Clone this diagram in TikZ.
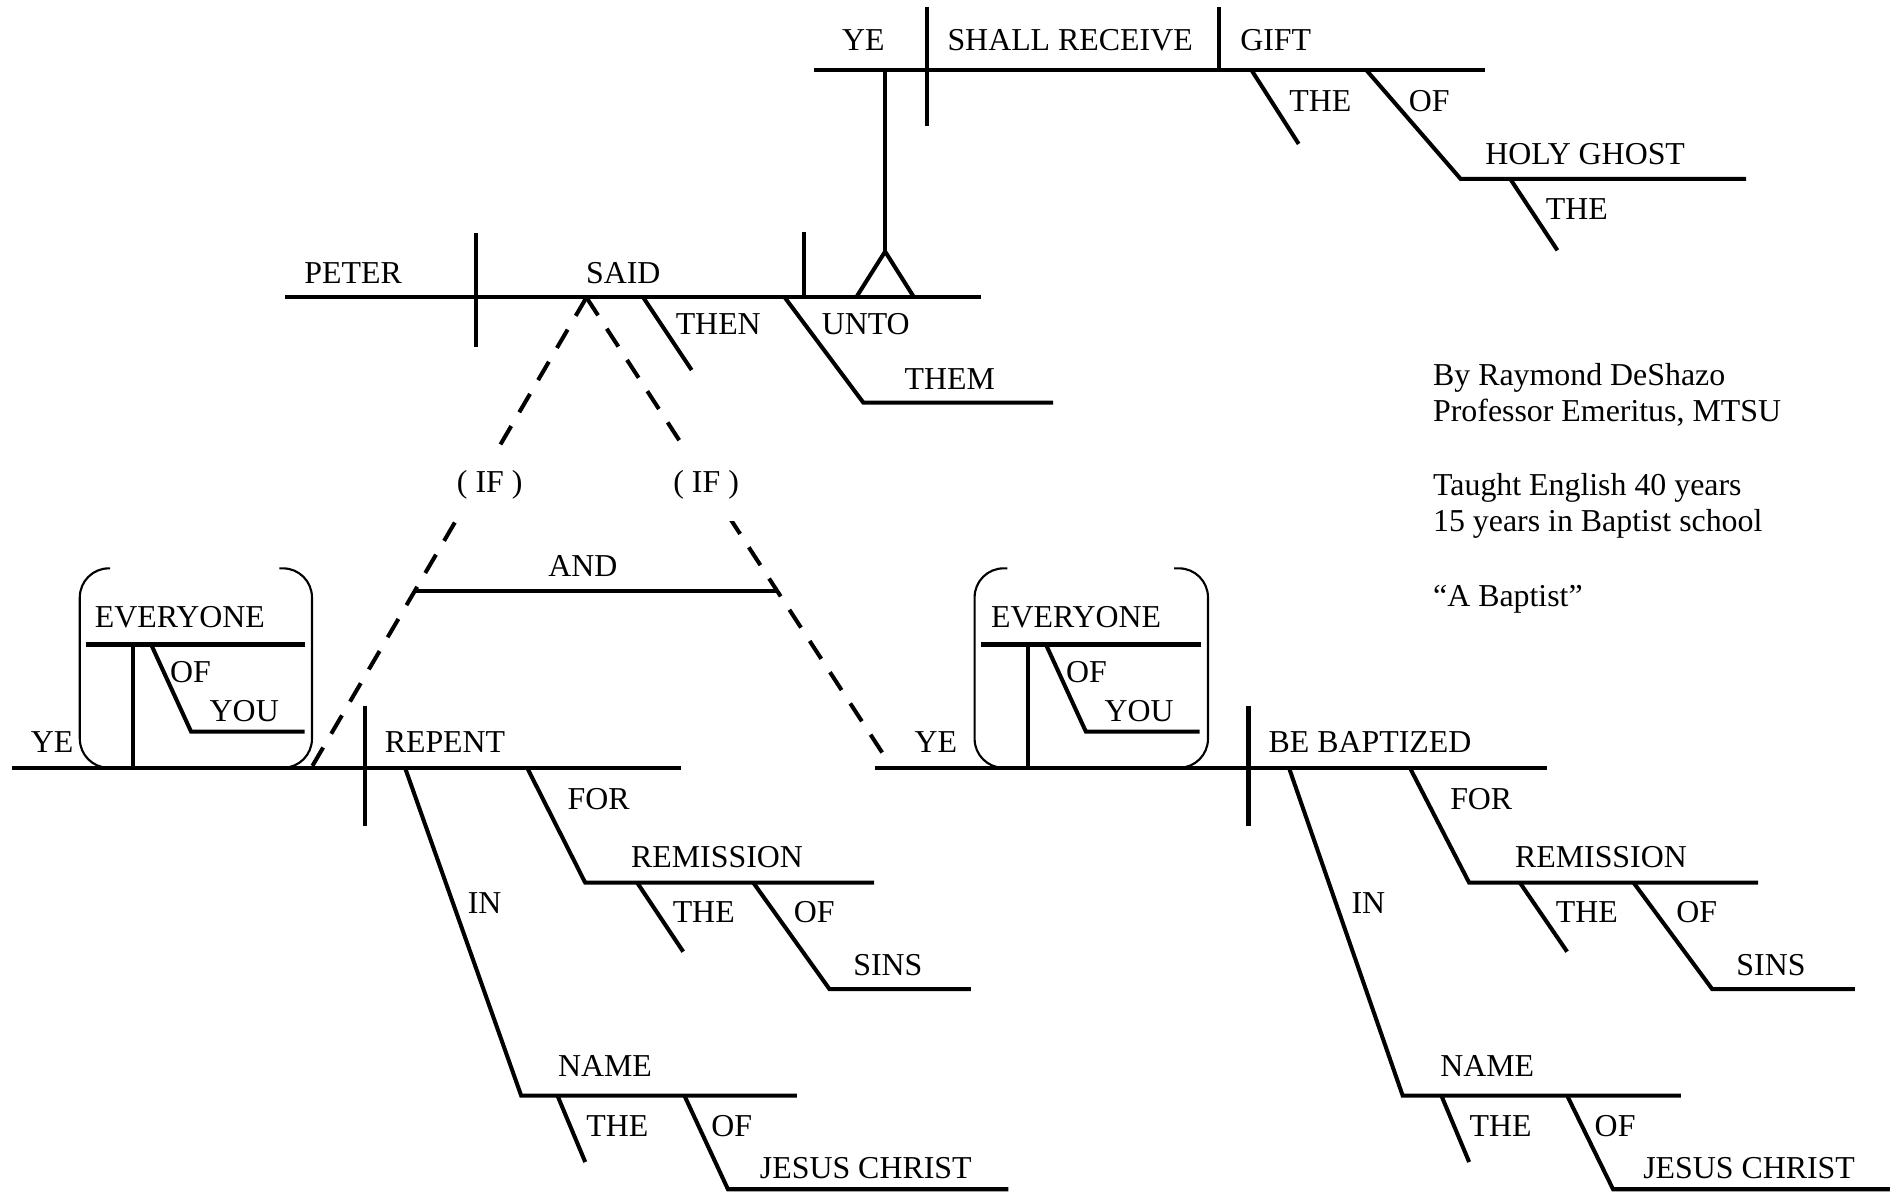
\documentclass[tikz,border=0pt]{standalone}
\usepackage{fontspec}
\setmainfont{Liberation Serif}
\usepackage{xcolor}
\usepackage{tikz}
\newcommand{\wordsize}{\fontsize{7.5}{8.7}\selectfont}

\begin{document}
\begin{tikzpicture}[x=0.1mm, y=-0.1mm,
        ln/.style={line width=0.95pt},
        dashln/.style={line width=0.95pt, dash pattern=on 1.76mm off 1.32mm},
        paren/.style={line width=0.5pt, rounded corners=2.4mm},
        word/.style={font=\wordsize, inner sep=0pt, anchor=base},
        ifword/.style={word, fill=white, inner sep=1.8mm},
        credit/.style={font=\wordsize, inner sep=0pt, anchor=base west}]

        \useasboundingbox (0,0) rectangle (1568,985);

        % Draw the clause on the pedestal
        \draw[ln] (673,58) -- (1228,58);
        \draw[ln] (767,6) -- (767,104);
        \draw[ln] (1008,6) -- (1008,58);
        \draw[ln] (1035,58) -- (1074,119);
        \draw[ln] (1130,58) -- (1208,148) coordinate (hg) -- (1444,148);
        \draw[ln] (1249,148) -- (1288,207);
        \draw[ln] (732,58) -- (732,208) coordinate (top);
        \draw[ln] (708,246) -- (top) -- (756,246);

        \node[word] (yeT)    at (714,42)    {YE};
        \node[word] (shall)  at (885,42)    {SHALL RECEIVE};
        \node[word] (gift)   at (1055,42)   {GIFT};
        \node[word] (theT)   at (1092,92.5) {THE};
        \node[word] (ofT)    at (1182,92.5) {OF};
        \node[word] (holy)   at (1311,136)  {HOLY GHOST};
        \node[word] (theHG)  at (1304,181.5) {THE};

        % Draw main clause
        \draw[ln] (236,246) -- (811,246);
        \draw[ln] (394,193) -- (394,287);
        \draw[ln] (665,192) -- (665,246);
        \draw[ln] (532,246) -- (572,306);
        \draw[ln] (649,246) -- (714,333) -- (871,333);

        \node[word] (peter) at (292,234.5)   {PETER};
        \node[word] (said)  at (515.5,234.5) {SAID};
        \node[word] (then)  at (594,277)     {THEN};
        \node[word] (unto)  at (716,277)     {UNTO};
        \node[word] (them)  at (785.5,322.5) {THEM};

        % Draw the two dashed branches and the conjunction
        \draw[dashln] (485,246) coordinate (fork) -- (258,634);
        \draw[dashln] (fork) -- (730,623);
        \draw[ln] (342.5,489) -- (643,489);

        \node[ifword] (ifL) at (405,407.5) {( IF )};
        \node[ifword] (ifR) at (584,407.5) {( IF )};
        \node[word]   (and) at (482,476.5) {AND};

        % Left clause: ye repent
        \draw[ln] (10,635) -- (563,635);
        \draw[ln] (302,584) -- (302,683);
        \draw[ln] (110,635) -- (110,533);
        \draw[ln] (71,533) -- (252,533);
        \draw[ln] (125,533) -- (158,605) -- (252,605);
        \draw[paren] (91,470) -- (66,470) -- (66,635) -- (88,635);
        \draw[paren] (231,470) -- (258,470) -- (258,635) -- (238,635);

        \draw[ln] (335,635) -- (431,906) -- (659,906);
        \draw[ln] (436,635) -- (484,730) -- (723,730);
        \draw[ln] (527,730) -- (565,787);
        \draw[ln] (623,730) -- (686,818) -- (803,818);
        \draw[ln] (461,906) -- (484,961);
        \draw[ln] (566,906) -- (602,983.5) -- (834,983.5);

        \node[word] (yeL)     at (43,622.5)    {YE};
        \node[word] (everyL)  at (148.7,519)   {EVERYONE};
        \node[word] (ofyouL)  at (157.6,564)   {OF};
        \node[word] (youL)    at (202,597)     {YOU};
        \node[word] (repent)  at (368,622.5)   {REPENT};
        \node[word] (forL)    at (495,669.3)   {FOR};
        \node[word] (remL)    at (593,717.5)   {REMISSION};
        \node[word] (theremL) at (582,763)     {THE};
        \node[word] (ofremL)  at (673.4,763)   {OF};
        \node[word] (sinsL)   at (734.3,806.5) {SINS};
        \node[word] (inL)     at (400.8,755.3) {IN};
        \node[word] (nameL)   at (500.3,890.5) {NAME};
        \node[word] (thenmL)  at (510.6,939.5) {THE};
        \node[word] (ofnmL)   at (605.2,939.5) {OF};
        \node[word] (jesusL)  at (716,974.5)   {JESUS CHRIST};

        % Right clause: ye be baptized
        \draw[ln] (724,635) -- (1279,635);
        \draw[ln] (1032.5,584) -- (1032.5,683);
        \draw[ln] (850.5,635) -- (850.5,533);
        \draw[ln] (811,533) -- (993,533);
        \draw[ln] (865,533) -- (898,605) -- (992,605);
        \draw[paren] (833,470) -- (806,470) -- (806,635) -- (826,635);
        \draw[paren] (971,470) -- (999,470) -- (999,635) -- (979,635);

        \draw[ln] (1066,635) -- (1160,906) -- (1390,906);
        \draw[ln] (1166,635) -- (1215,730) -- (1454,730);
        \draw[ln] (1257,730) -- (1296,787);
        \draw[ln] (1351,730) -- (1416,818) -- (1534,818);
        \draw[ln] (1192,906) -- (1215,961);
        \draw[ln] (1296,906) -- (1334,983.5) -- (1563,983.5);

        \node[word] (yeR)     at (774,622.5)    {YE};
        \node[word] (everyR)  at (890,519)      {EVERYONE};
        \node[word] (ofyouR)  at (898.6,564)    {OF};
        \node[word] (youR)    at (942,597)      {YOU};
        \node[word] (baptize) at (1133,622.5)   {BE BAPTIZED};
        \node[word] (forR)    at (1225,669.3)   {FOR};
        \node[word] (remR)    at (1324,717.5)   {REMISSION};
        \node[word] (theremR) at (1312.4,763)   {THE};
        \node[word] (ofremR)  at (1403.3,763)   {OF};
        \node[word] (sinsR)   at (1464.6,806.5) {SINS};
        \node[word] (inR)     at (1131.7,755.3) {IN};
        \node[word] (nameR)   at (1230,890.5)   {NAME};
        \node[word] (thenmR)  at (1241,939.5)   {THE};
        \node[word] (ofnmR)   at (1335.7,939.5) {OF};
        \node[word] (jesusR)  at (1446.5,974.5) {JESUS CHRIST};

        % Credits
        \node[credit] (by)     at (1184.5,318.5) {By Raymond DeShazo};
        \node[credit] (prof)   at (1184.5,348.3) {Professor Emeritus, MTSU};
        \node[credit] (taught) at (1184.5,409.4) {Taught English 40 years};
        \node[credit] (school) at (1184.5,439.7) {15 years in Baptist school};
        \node[credit] (quote)  at (1184.5,501.7) {“A Baptist”};
\end{tikzpicture}
\end{document}
